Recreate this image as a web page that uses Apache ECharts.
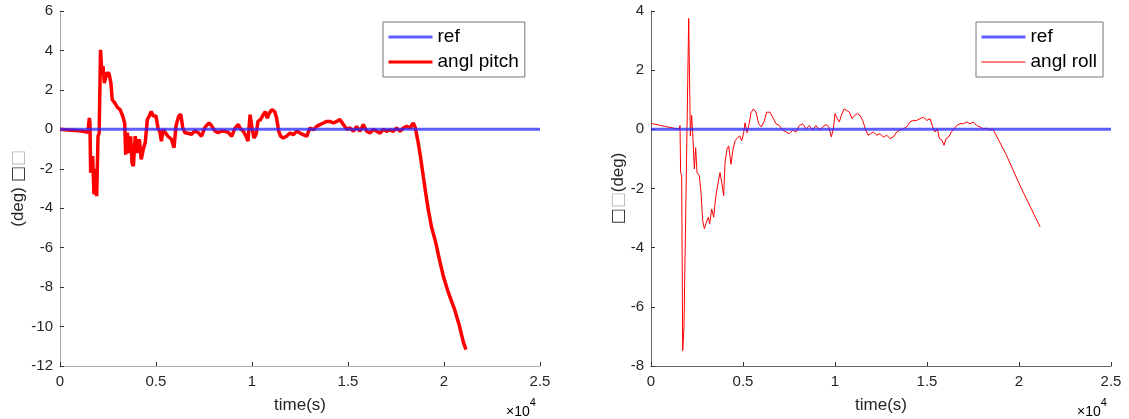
<!DOCTYPE html>
<html>
<head>
<meta charset="utf-8">
<script src="https://cdn.jsdelivr.net/npm/echarts@6/dist/echarts.min.js"></script>
<style>html,body{margin:0;padding:0;background:#fff}#c{width:1129px;height:419px}</style>
</head>
<body>
<div id="c"></div>
<script>
// ---- data ----
const xTickLabels = ['0', '0.5', '1', '1.5', '2', '2.5'];
const refTime = [0, 25000];
const refValue = [0, 0];

const pitchTime = [0,400,800,1200,1450,1527,1560,1597,1700,1770,1820,1860,1910,1980,2040,2110,2180,2240,2310,2430,2550,2650,2720,2860,3000,3130,3270,3370,3420,3510,3580,3680,3750,3820,3920,4030,4130,4230,4340,4440,4550,4650,4750,4860,5000,5100,5210,5280,5380,5490,5620,5800,5940,6040,6180,6290,6390,6500,6670,6850,7020,7200,7370,7550,7760,7900,8070,8240,8420,8590,8770,8940,9110,9290,9375,9550,9690,9790,9900,10000,10100,10210,10310,10450,10590,10690,10800,10900,11040,11180,11280,11390,11490,11630,11800,11980,12150,12330,12500,12670,12850,13020,13200,13370,13540,13720,13890,14060,14240,14410,14580,14760,14930,15100,15280,15450,15620,15800,15970,16140,16320,16490,16670,16840,17010,17190,17360,17530,17710,17880,18050,18230,18400,18500,18660,18800,18920,19050,19180,19350,19570,19750,19960,20200,20540,20800,21010,21145];
const pitchValue = [0,-0.03,-0.06,-0.1,-0.15,0.58,0.3,-2.2,-1.36,-3.3,-2.0,-2.6,-3.39,-0.35,-0.2,4.03,2.85,3.2,2.35,2.85,2.85,2.35,1.5,1.33,1.1,1.0,0.66,0.3,-1.28,-0.17,-1.2,-0.35,-1.7,-1.87,-0.35,-1.2,-0.5,-1.52,-1.0,-0.67,0.5,0.67,0.91,0.67,0.67,0.1,-0.17,-0.6,0,-0.17,-0.35,-0.5,-0.93,0.17,0.67,0.76,0.1,-0.17,-0.2,-0.25,-0.08,-0.17,-0.35,0.1,0.33,0.17,-0.08,-0.17,-0.08,-0.1,-0.17,-0.35,0.05,0.25,0.07,-0.1,-0.35,-0.6,0.74,0.07,-0.44,-0.27,0.4,0.5,0.74,0.9,0.57,0.82,1.0,0.9,0.57,-0.1,-0.35,-0.44,-0.35,-0.19,-0.27,-0.1,-0.19,-0.27,-0.35,0.07,-0.02,0.15,0.24,0.32,0.4,0.4,0.32,0.4,0.5,0.24,0,0.07,-0.1,0.15,-0.1,0.24,-0.1,-0.19,0,-0.1,-0.19,0,-0.1,-0.02,-0.1,0.07,-0.1,0.07,0.15,0.07,0.32,0.1,-0.69,-1.55,-2.38,-3.25,-4.06,-4.95,-5.74,-6.55,-7.43,-8.2,-9.1,-9.95,-10.8,-11.17];

const rollTime = [0,770,1540,1576,1610,1667,1722,1793,2049,2139,2210,2265,2355,2428,2500,2627,2718,2809,2900,3008,3117,3190,3298,3407,3515,3588,3660,3751,3841,3950,4023,4131,4222,4349,4458,4566,4711,4820,4929,5037,5110,5219,5327,5436,5562,5707,5852,5996,6141,6286,6467,6612,6793,6974,7155,7336,7518,7699,7880,8061,8242,8423,8605,8786,8967,9148,9329,9510,9655,9801,9910,10000,10127,10236,10345,10490,10635,10780,10924,11069,11214,11359,11504,11649,11794,11939,12084,12265,12446,12628,12809,12990,13171,13352,13534,13715,13896,14077,14259,14440,14621,14802,14984,15165,15310,15436,15563,15672,15817,15925,16034,16179,16324,16469,16614,16795,16976,17158,17339,17520,17701,17882,18063,18245,18426,18571,19300,20055,20600,21150];
const rollValue = [0.2,0.1,0.0,0.13,-1.46,-1.57,-7.48,-6.67,3.75,-0.22,0.47,-0.11,-1.34,-0.62,-1.46,-1.57,-2.13,-3.08,-3.36,-3.14,-2.97,-3.19,-2.69,-2.97,-2.3,-2.02,-2.07,-1.46,-1.79,-2.24,-1.12,-0.67,-0.56,-1.18,-0.67,-0.39,-0.28,-0.22,-0.39,-0.11,0.22,-0.11,0.17,0.56,0.69,0.58,0.19,0.08,0.25,0.58,0.58,0.41,0.19,0.13,-0.03,-0.09,-0.15,-0.03,-0.09,0.13,0.19,0.02,0.13,-0.03,0.13,-0.03,0.08,0.16,0.1,-0.26,0.02,0.53,0.36,0.25,0.47,0.69,0.64,0.58,0.36,0.47,0.53,0.47,0.3,0.02,-0.2,-0.15,-0.09,-0.2,-0.15,-0.26,-0.2,-0.31,-0.26,-0.09,-0.03,0.02,0.08,0.25,0.3,0.3,0.36,0.41,0.3,0.36,0.08,-0.09,0.02,-0.31,-0.37,-0.54,-0.31,-0.26,-0.09,0.02,0.13,0.19,0.19,0.25,0.19,0.25,0.13,0.08,0.02,0.04,-0.03,0.02,-0.85,-1.9,-2.6,-3.3];

const zip = (a, b) => a.map((v, i) => [v, b[i]]);

// ---- chart ----
const FONT = '"Liberation Sans", Arial, Helvetica, sans-serif';
const TXT = '#262626';
const BLUE = 'rgba(40,40,255,0.75)';
const chart = echarts.init(document.getElementById('c'), null, {renderer: 'canvas'});

function xAxis(idx, lineColor) {
  return {
    gridIndex: idx, type: 'value', min: 0, max: 25000, interval: 5000,
    name: 'time(s)', nameLocation: 'middle', nameGap: 31,
    nameTextStyle: {fontFamily: FONT, fontSize: 17, color: TXT},
    axisLine: {onZero: false, lineStyle: {color: lineColor, width: 1}},
    axisTick: {inside: true, length: 4, lineStyle: {color: '#333'}},
    axisLabel: {fontFamily: FONT, fontSize: 15, color: TXT, margin: 8,
      formatter: v => xTickLabels[Math.round(v / 5000)]},
    splitLine: {show: false}
  };
}
function yAxis(idx, min, max, name, gap, lineColor) {
  return {
    gridIndex: idx, type: 'value', min: min, max: max, interval: 2,
    name: name, nameLocation: 'middle', nameGap: gap,
    nameTextStyle: {fontFamily: FONT, fontSize: 17, color: TXT,
      rich: {d: {fontFamily: 'DejaVu Sans', fontSize: 17, color: '#333'},
             l: {fontFamily: 'DejaVu Sans', fontSize: 17, color: '#bbb'}}},
    axisLine: {show: true, lineStyle: {color: lineColor, width: 1}},
    axisTick: {show: true, inside: true, length: 4, lineStyle: {color: '#333'}},
    axisLabel: {fontFamily: FONT, fontSize: 15, color: TXT, margin: 7},
    splitLine: {show: false}
  };
}
function legend(left, items) {
  return {
    orient: 'vertical', left: left, top: 22,
    data: items,
    borderColor: '#777', borderWidth: 1, borderRadius: 0,
    backgroundColor: '#fff',
    padding: [5, 6, 5, 4], itemGap: 5,
    itemWidth: 44, itemHeight: 14,
    itemStyle: {opacity: 0},
    textStyle: {fontFamily: FONT, fontSize: 19, lineHeight: 20, color: '#000'},
    selectedMode: false
  };
}
const expo = {type: 'text', top: 397, style: {text: '{a|×10}{b|4}', rich: {
  a: {fontFamily: FONT, fontSize: 14, color: TXT, verticalAlign: 'bottom', padding: [8, 0, 0, 0]},
  b: {fontFamily: FONT, fontSize: 11, color: TXT, verticalAlign: 'top', padding: [0, 0, 8, 0]}}}};

const option = {
  animation: false,
  backgroundColor: '#fff',
  grid: [
    {left: 60, top: 11, width: 480, height: 356},
    {left: 651, top: 11, width: 460, height: 357}
  ],
  xAxis: [xAxis(0, '#a8a8a8'), xAxis(1, '#666')],
  yAxis: [
    yAxis(0, -12, 6, '(deg) {d|□}{l|□}', 33, '#a8a8a8'),
    yAxis(1, -8, 4, '{d|□}{l|□}(deg)', 24, '#666')
  ],
  legend: [
    legend(383, [{name: 'ref', lineStyle: {width: 3, color: BLUE}},
                 {name: 'angl pitch', lineStyle: {width: 3, color: '#ff0000'}}]),
    legend(976, [{name: 'ref', lineStyle: {width: 3, color: BLUE}},
                 {name: 'angl roll', lineStyle: {width: 1, color: '#ff0000'}}])
  ],
  graphic: [
    Object.assign({left: 506}, expo),
    Object.assign({left: 1077}, expo)
  ],
  series: [
    {name: 'ref', type: 'line', xAxisIndex: 0, yAxisIndex: 0, data: zip(refTime, refValue),
     symbol: 'none', z: 4, lineStyle: {color: BLUE, width: 3}, itemStyle: {color: BLUE}},
    {name: 'angl pitch', type: 'line', xAxisIndex: 0, yAxisIndex: 0, data: zip(pitchTime, pitchValue),
     symbol: 'none', z: 3, lineStyle: {color: '#ff0000', width: 3.5}, itemStyle: {color: '#ff0000'}},
    {name: 'ref', type: 'line', xAxisIndex: 1, yAxisIndex: 1, data: zip(refTime, refValue),
     symbol: 'none', z: 4, lineStyle: {color: BLUE, width: 3}, itemStyle: {color: BLUE}},
    {name: 'angl roll', type: 'line', xAxisIndex: 1, yAxisIndex: 1, data: zip(rollTime, rollValue),
     symbol: 'none', z: 3, lineStyle: {color: '#ff0000', width: 1}, itemStyle: {color: '#ff0000'}}
  ]
};
chart.setOption(option);
</script>
</body>
</html>
